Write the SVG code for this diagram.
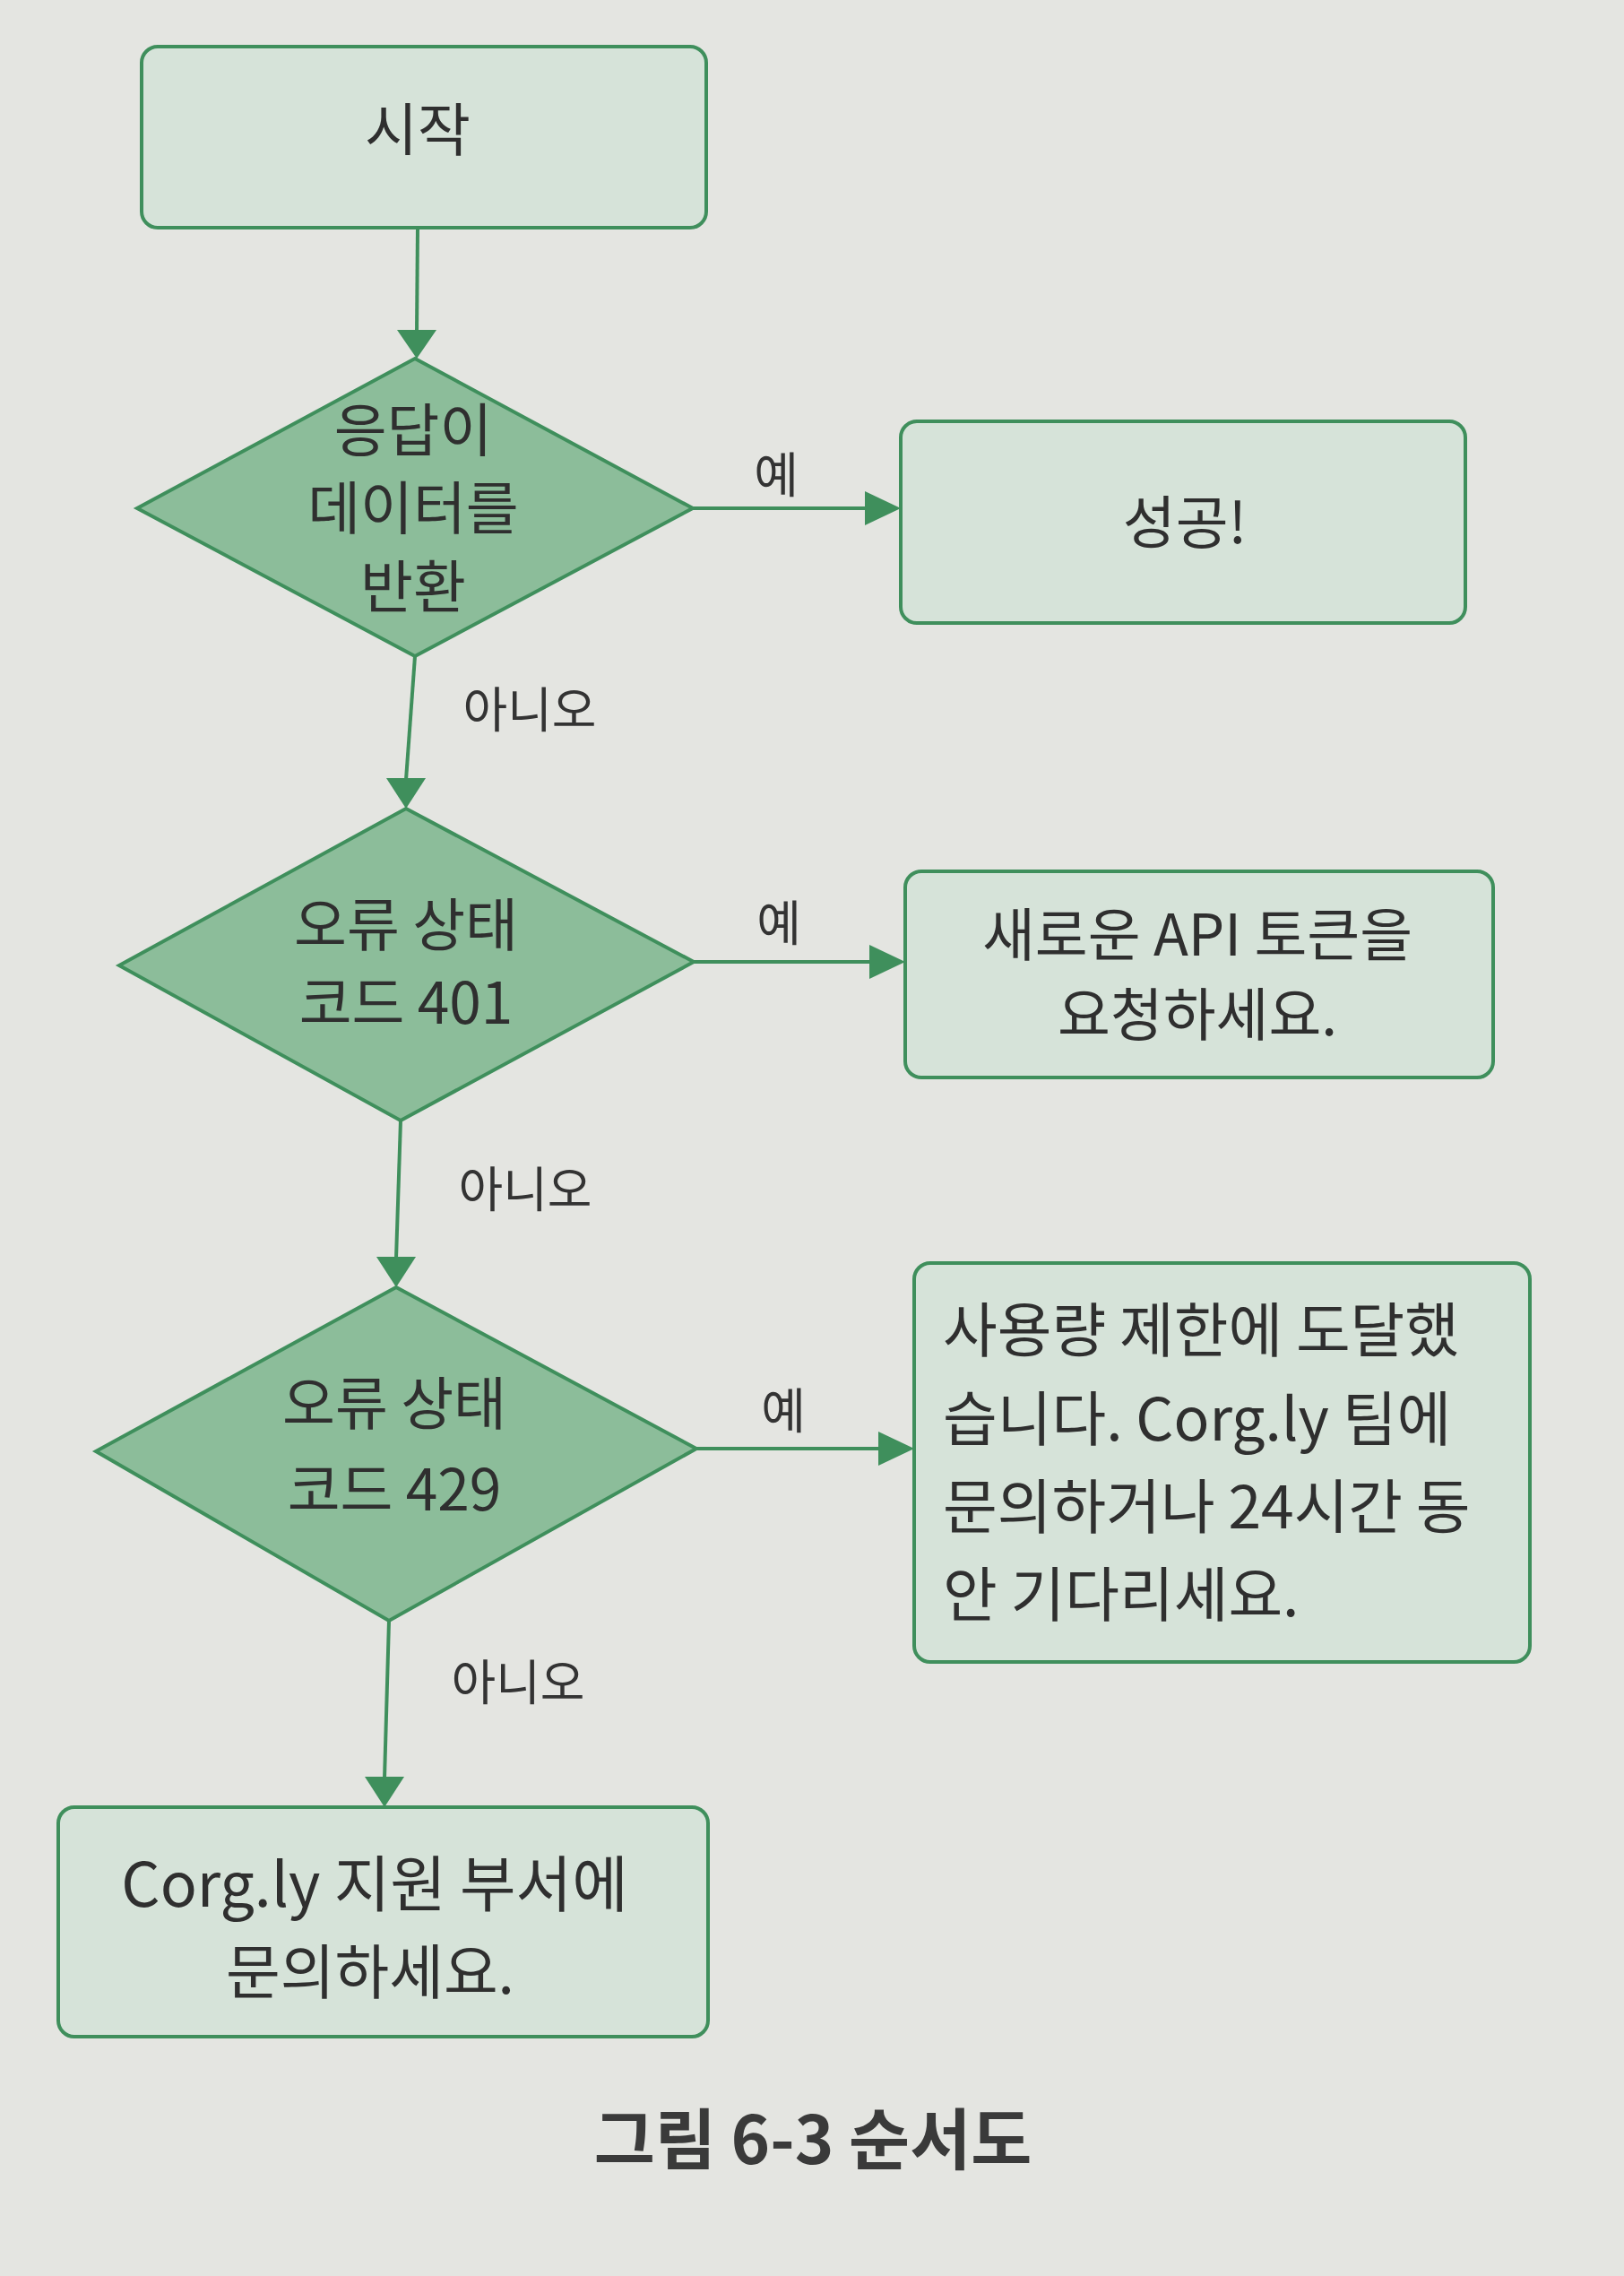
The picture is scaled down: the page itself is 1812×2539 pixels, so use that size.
<svg xmlns="http://www.w3.org/2000/svg" width="1812" height="2539" viewBox="0 0 1812 2539">
<style>
.box{fill:#d6e3d9;stroke:#3f8f5c;stroke-width:4}
.dia{fill:#8cbd9a;stroke:#3f8f5c;stroke-width:4}
.t{font-family:"Noto Sans CJK KR","Noto Sans",sans-serif;fill:#2f2f2f;font-size:64px;text-anchor:middle}
.tl{font-family:"Noto Sans CJK KR","Noto Sans",sans-serif;fill:#2f2f2f;font-size:66px}
.lbl{font-family:"Noto Sans CJK KR","Noto Sans",sans-serif;fill:#333;font-size:54px;text-anchor:middle}
.cap{font-family:"Noto Sans CJK KR","Noto Sans",sans-serif;fill:#3a3a3a;font-size:74px;font-weight:bold;text-anchor:middle}
.ln{stroke:#3f8f5c;stroke-width:4;fill:none}
.ah{fill:#3f8f5c}
</style>
<rect x="0" y="0" width="1812" height="2539" fill="#e4e5e1"/>
<g id="connectors">
<line class="ln" x1="466" y1="254" x2="465" y2="370"/>
<path class="ah" d="M443,368 L487,368 L465,400 Z"/>
<line class="ln" x1="773" y1="567" x2="970" y2="567"/>
<path class="ah" d="M965,548 L1005,567 L965,586 Z"/>
<line class="ln" x1="463" y1="732" x2="453" y2="870"/>
<path class="ah" d="M431,868 L475,868 L453,902 Z"/>
<line class="ln" x1="774" y1="1073" x2="975" y2="1073"/>
<path class="ah" d="M970,1054 L1010,1073 L970,1092 Z"/>
<line class="ln" x1="447" y1="1250" x2="442" y2="1404"/>
<path class="ah" d="M420,1402 L464,1402 L442,1436 Z"/>
<line class="ln" x1="777" y1="1616" x2="985" y2="1616"/>
<path class="ah" d="M980,1597 L1020,1616 L980,1635 Z"/>
<line class="ln" x1="434" y1="1808" x2="429" y2="1984"/>
<path class="ah" d="M407,1982 L451,1982 L429,2016 Z"/>
<text class="lbl" x="866" y="550">예</text>
<text class="lbl" x="591" y="812">아니오</text>
<text class="lbl" x="869" y="1050">예</text>
<text class="lbl" x="586" y="1347">아니오</text>
<text class="lbl" x="874" y="1594">예</text>
<text class="lbl" x="578" y="1897">아니오</text>
</g>
<g id="start">
<rect class="box" x="158" y="52" width="630" height="202" rx="18"/>
<text class="t" x="466" y="168">시작</text>
</g>
<g id="decision1">
<polygon class="dia" points="463,400 773,567 463,732 153,567"/>
<text class="t" x="461" y="503">응답이</text>
<text class="t" x="461" y="590">데이터를</text>
<text class="t" x="461" y="678">반환</text>
</g>
<g id="success">
<rect class="box" x="1005" y="470" width="630" height="225" rx="18"/>
<text class="t" x="1322" y="606">성공!</text>
</g>
<g id="decision2">
<polygon class="dia" points="453,902 774,1073 447,1250 133,1077"/>
<text class="t" x="453" y="1055">오류 상태</text>
<text class="t" x="453" y="1142">코드 401</text>
</g>
<g id="newtoken">
<rect class="box" x="1010" y="972" width="656" height="230" rx="18"/>
<text class="t" x="1336" y="1066">새로운 API 토큰을</text>
<text class="t" x="1336" y="1155">요청하세요.</text>
</g>
<g id="decision3">
<polygon class="dia" points="442,1436 777,1616 434,1808 107,1619"/>
<text class="t" x="440" y="1589">오류 상태</text>
<text class="t" x="440" y="1685">코드 429</text>
</g>
<g id="ratelimit">
<rect class="box" x="1020" y="1409" width="687" height="445" rx="18"/>
<text class="tl" x="1052" y="1508">사용량 제한에 도달했</text>
<text class="tl" x="1052" y="1607">습니다. Corg.ly 팀에</text>
<text class="tl" x="1052" y="1705">문의하거나 24시간 동</text>
<text class="tl" x="1052" y="1803">안 기다리세요.</text>
</g>
<g id="support">
<rect class="box" x="65" y="2016" width="725" height="256" rx="18"/>
<text class="t" x="418" y="2127" style="font-size:68px">Corg.ly 지원 부서에</text>
<text class="t" x="413" y="2224" style="font-size:66px">문의하세요.</text>
</g>
<g id="caption">
<text class="cap" x="907" y="2414">그림 6-3 순서도</text>
</g>
</svg>
